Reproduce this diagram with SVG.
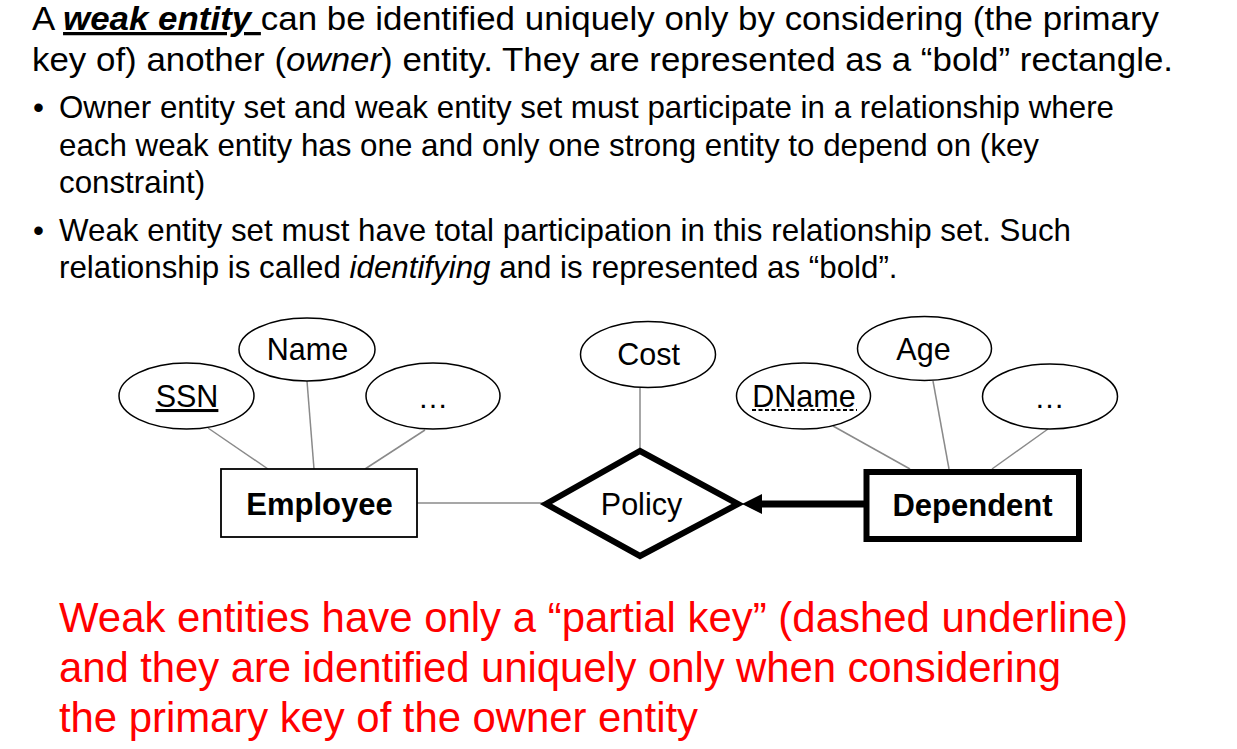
<svg xmlns="http://www.w3.org/2000/svg" width="1237" height="749" viewBox="0 0 1237 749">
<style>
  .t { font-family: "Liberation Sans", Arial, sans-serif; fill: #000; }
  .hdr { font-size: 32.5px; }
  .bul { font-size: 31.3px; }
  .red { font-size: 41.9px; fill: #ff0000; }
  .lbl { font-size: 30.5px; text-anchor: middle; }
  .ent { font-size: 31px; font-weight: bold; text-anchor: middle; }
  .attr { fill: #fff; stroke: #000; stroke-width: 1.5; }
  .conn { stroke: #8a8a8a; stroke-width: 1.5; fill: none; }
</style>
<defs>
  <marker id="arrow" markerUnits="userSpaceOnUse" markerWidth="21" markerHeight="21" refX="0" refY="10" orient="auto" viewBox="0 0 21 21">
    <path d="M0,0 L20,10 L0,20 z" fill="#000"/>
  </marker>
</defs>
<rect width="1237" height="749" fill="#fff"/>

<g id="text-header">
  <text class="t hdr" x="32" y="30" textLength="1127" lengthAdjust="spacingAndGlyphs">A <tspan font-weight="bold" font-style="italic" text-decoration="underline">weak entity </tspan>can be identified uniquely only by considering (the primary</text>
  <text class="t hdr" x="32" y="71" textLength="1141" lengthAdjust="spacingAndGlyphs">key of) another (<tspan font-style="italic">owner</tspan>) entity. They are represented as a “bold” rectangle.</text>
  <text class="t bul" x="33" y="118">•</text>
  <text class="t bul" x="59" y="118" textLength="1055">Owner entity set and weak entity set must participate in a relationship where</text>
  <text class="t bul" x="59" y="155.5" textLength="980">each weak entity has one and only one strong entity to depend on (key</text>
  <text class="t bul" x="59" y="193">constraint)</text>
  <text class="t bul" x="33" y="240.5">•</text>
  <text class="t bul" x="59" y="240.5" textLength="1012">Weak entity set must have total participation in this relationship set. Such</text>
  <text class="t bul" x="59" y="278">relationship is called <tspan font-style="italic">identifying</tspan> and is represented as “bold”.</text>
</g>

<g id="connectors">
  <line class="conn" x1="208" y1="428" x2="268" y2="469"/>
  <line class="conn" x1="307" y1="381" x2="314" y2="469"/>
  <line class="conn" x1="425" y1="430" x2="365" y2="469"/>
  <line class="conn" x1="417" y1="503" x2="546" y2="503"/>
  <line class="conn" x1="640" y1="388" x2="640" y2="451"/>
  <line class="conn" x1="833" y1="426" x2="910" y2="469"/>
  <line class="conn" x1="933" y1="381" x2="949" y2="469"/>
  <line class="conn" x1="1048" y1="429" x2="992" y2="469"/>
  <line x1="866" y1="504" x2="762" y2="504" stroke="#000" stroke-width="7" marker-end="url(#arrow)"/>
</g>

<g id="attr-ssn">
  <ellipse class="attr" cx="186.5" cy="396" rx="67.5" ry="33"/>
  <text class="t lbl" x="187" y="407" text-decoration="underline">SSN</text>
</g>
<g id="attr-name">
  <ellipse class="attr" cx="307" cy="349.5" rx="68" ry="31.5"/>
  <text class="t lbl" x="307.5" y="360">Name</text>
</g>
<g id="attr-emp-more">
  <ellipse class="attr" cx="433" cy="396" rx="67" ry="33"/>
  <text class="t lbl" x="433" y="408">…</text>
</g>
<g id="entity-employee">
  <rect x="221" y="469" width="196" height="68" fill="#fff" stroke="#000" stroke-width="1.8"/>
  <text class="t ent" x="319.5" y="514.5">Employee</text>
</g>
<g id="attr-cost">
  <ellipse class="attr" cx="648" cy="354.5" rx="67.5" ry="33"/>
  <text class="t lbl" x="648.5" y="364.5">Cost</text>
</g>
<g id="rel-policy">
  <polygon points="640,451 738,504 640,556 546,504" fill="#fff" stroke="#000" stroke-width="6" stroke-linejoin="miter"/>
  <text class="t lbl" x="641.5" y="514.5">Policy</text>
</g>
<g id="attr-dname">
  <ellipse class="attr" cx="803.5" cy="396" rx="67" ry="33"/>
  <text class="t lbl" x="804" y="406.5">DName</text>
  <line x1="752" y1="410" x2="857" y2="410" stroke="#000" stroke-width="2.2" stroke-dasharray="4,2.5"/>
</g>
<g id="attr-age">
  <ellipse class="attr" cx="924.5" cy="348.5" rx="67" ry="32"/>
  <text class="t lbl" x="923.5" y="359.5">Age</text>
</g>
<g id="attr-dep-more">
  <ellipse class="attr" cx="1050" cy="396.5" rx="67.5" ry="32.5"/>
  <text class="t lbl" x="1049.5" y="408">…</text>
</g>
<g id="entity-dependent">
  <rect x="866.5" y="472" width="212.5" height="67" fill="#fff" stroke="#000" stroke-width="6"/>
  <text class="t ent" x="972.5" y="516">Dependent</text>
</g>

<g id="text-note">
  <text class="t red" x="59" y="632" textLength="1069">Weak entities have only a “partial key” (dashed underline)</text>
  <text class="t red" x="59" y="682" textLength="1002">and they are identified uniquely only when considering</text>
  <text class="t red" x="59" y="732" textLength="639">the primary key of the owner entity</text>
</g>
</svg>
